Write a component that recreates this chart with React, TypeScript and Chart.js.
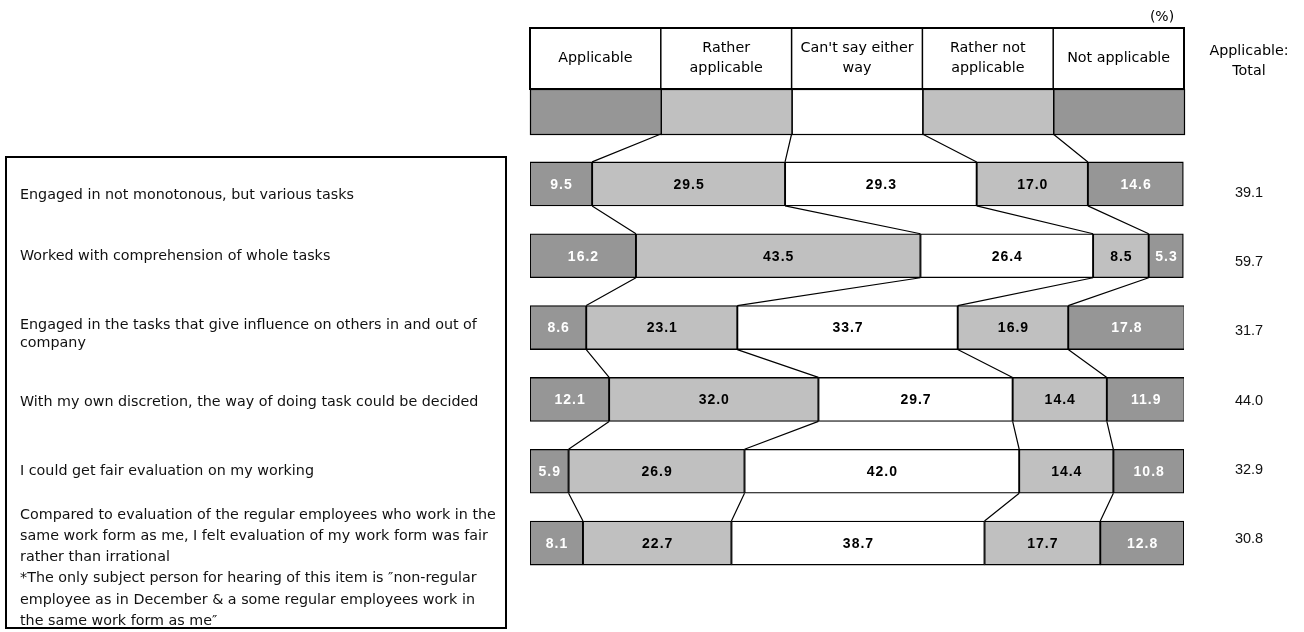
import React, { useEffect, useRef } from "react";
import { Chart, registerables } from "chart.js";

Chart.register(...registerables);

// ---------- data ----------
const categories = [
  "Engaged in not monotonous, but various tasks",
  "Worked with comprehension of whole tasks",
  "Engaged in the tasks that give influence on others in and out of company",
  "With my own discretion, the way of doing task could be decided",
  "I could get fair evaluation on my working",
  "Compared to evaluation of the regular employees who work in the same work form as me, I felt evaluation of my work form was fair rather than irrational",
];

const categoryLines = [
  ["Engaged in not monotonous, but various tasks"],
  ["Worked with comprehension of whole tasks"],
  ["Engaged in the tasks that give influence on others in and out of", "company"],
  ["With my own discretion, the way of doing task could be decided"],
  ["I could get fair evaluation on my working"],
  [
    "Compared to evaluation of the regular employees who work in the",
    "same work form as me, I felt evaluation of my work form was fair",
    "rather than irrational",
    "*The only subject person for hearing of this item is \u2033non-regular",
    "employee as in December & a some regular employees work in",
    "the same work form as me\u2033",
  ],
];

const seriesNames = [
  "Applicable",
  "Rather applicable",
  "Can't say either way",
  "Rather not applicable",
  "Not applicable",
];
const headerLines = [
  ["Applicable"],
  ["Rather", "applicable"],
  ["Can't say either", "way"],
  ["Rather not", "applicable"],
  ["Not applicable"],
];

const applicable = [9.5, 16.2, 8.6, 12.1, 5.9, 8.1];
const ratherApplicable = [29.5, 43.5, 23.1, 32.0, 26.9, 22.7];
const cantSay = [29.3, 26.4, 33.7, 29.7, 42.0, 38.7];
const ratherNot = [17.0, 8.5, 16.9, 14.4, 14.4, 17.7];
const notApplicable = [14.6, 5.3, 17.8, 11.9, 10.8, 12.8];
const applicableTotal = [39.1, 59.7, 31.7, 44.0, 32.9, 30.8];

const totalHeader = ["Applicable:", "Total"];
const unitLabel = "(%)";

// ---------- styles / layout ----------
const DARK = "#969696";
const LIGHT = "#c0c0c0";
const WHITE = "#ffffff";
const fills = [DARK, LIGHT, WHITE, LIGHT, DARK];
const labelColors = ["#ffffff", "#000000", "#000000", "#000000", "#ffffff"];

const W = 1304;
const H = 632;
const HEADER_TOP = 28;
const HEADER_MID = 89;
const HEADER_BOT = 134;
const LABEL_FIRST_Y = [195, 256, 325, 402, 471, 515];
const LABEL_LINE_H = [20, 20, 18, 20, 20, 21.2];
const TOTAL_Y0 = 193;
const TOTAL_STEP = 69.2;
const TOTAL_X = 1249;
const TEXT_FONT = '14.3px "DejaVu Sans"';

const overlayPlugin = {
  id: "overlay",
  afterDatasetsDraw(chart: any) {
    const ctx: CanvasRenderingContext2D = chart.ctx;
    const area = chart.chartArea;
    const nDs = chart.data.datasets.length;
    const n = categories.length;
    const metas = chart.data.datasets.map((_: any, i: number) => chart.getDatasetMeta(i));
    const el = (d: number, i: number) =>
      metas[d].data[i].getProps(["x", "y", "base", "height"], true);

    ctx.save();

    // ---- header table ----
    const hx0 = area.left;
    const colW = (area.right - area.left) / nDs;
    for (let k = 0; k < nDs; k++) {
      ctx.fillStyle = fills[k];
      ctx.fillRect(hx0 + k * colW, HEADER_MID, colW, HEADER_BOT - HEADER_MID);
    }
    ctx.strokeStyle = "#000";
    ctx.lineWidth = 1.2;
    for (let k = 0; k < nDs; k++) {
      ctx.strokeRect(hx0 + k * colW + 0.5, HEADER_MID + 0.5, colW, HEADER_BOT - HEADER_MID);
    }
    ctx.lineWidth = 1.5;
    for (let k = 1; k < nDs; k++) {
      ctx.beginPath();
      ctx.moveTo(hx0 + k * colW, HEADER_TOP);
      ctx.lineTo(hx0 + k * colW, HEADER_MID);
      ctx.stroke();
    }
    ctx.lineWidth = 2;
    ctx.strokeRect(hx0, HEADER_TOP, area.right - area.left, HEADER_MID - HEADER_TOP);

    ctx.fillStyle = "#000";
    ctx.font = TEXT_FONT;
    ctx.textAlign = "center";
    ctx.textBaseline = "middle";
    const hMidY = (HEADER_TOP + HEADER_MID) / 2;
    for (let k = 0; k < nDs; k++) {
      const lines = headerLines[k];
      const lh = 20;
      const y0 = hMidY - ((lines.length - 1) * lh) / 2;
      lines.forEach((t, j) => ctx.fillText(t, hx0 + (k + 0.5) * colW, y0 + j * lh));
    }

    // unit label
    ctx.font = '14px "DejaVu Sans"';
    ctx.fillText(unitLabel, area.right - 22, 17);

    // total header
    ctx.font = TEXT_FONT;
    ctx.fillText(totalHeader[0], TOTAL_X, 51);
    ctx.fillText(totalHeader[1], TOTAL_X, 71);

    // ---- connectors ----
    ctx.strokeStyle = "#000";
    ctx.lineWidth = 1.2;
    ctx.beginPath();
    for (let k = 1; k < nDs; k++) {
      const b = el(k - 1, 0);
      ctx.moveTo(hx0 + k * colW, HEADER_BOT);
      ctx.lineTo(b.x, b.y - b.height / 2);
    }
    for (let i = 0; i < n - 1; i++) {
      for (let k = 1; k < nDs; k++) {
        const a = el(k - 1, i);
        const b = el(k - 1, i + 1);
        ctx.moveTo(a.x, a.y + a.height / 2);
        ctx.lineTo(b.x, b.y - b.height / 2);
      }
    }
    ctx.stroke();

    // ---- value labels ----
    ctx.font = 'bold 14px "Liberation Sans"';
    (ctx as any).letterSpacing = "1px";
    ctx.textAlign = "center";
    ctx.textBaseline = "middle";
    for (let d = 0; d < nDs; d++) {
      const vals = chart.data.datasets[d].data as number[];
      for (let i = 0; i < n; i++) {
        const b = el(d, i);
        ctx.fillStyle = labelColors[d];
        ctx.fillText(vals[i].toFixed(1), (b.x + b.base) / 2 + 0.5, b.y + 1);
      }
    }
    (ctx as any).letterSpacing = "0px";

    // ---- totals ----
    ctx.font = '14.5px "Liberation Sans"';
    ctx.fillStyle = "#111";
    for (let i = 0; i < n; i++) {
      ctx.fillText(applicableTotal[i].toFixed(1), TOTAL_X, TOTAL_Y0 + i * TOTAL_STEP);
    }

    // ---- left label box ----
    ctx.lineWidth = 2;
    ctx.strokeStyle = "#000";
    ctx.strokeRect(6, 157, 500, 471);
    ctx.font = TEXT_FONT;
    ctx.textAlign = "left";
    ctx.fillStyle = "#111";
    for (let i = 0; i < n; i++) {
      categoryLines[i].forEach((t, j) => {
        ctx.fillText(t, 20, LABEL_FIRST_Y[i] + j * LABEL_LINE_H[i]);
      });
    }

    ctx.restore();
  },
};

export default function App() {
  const ref = useRef<HTMLCanvasElement | null>(null);

  useEffect(() => {
    document.body.style.margin = "0";
    document.body.style.overflow = "hidden";
    if (!ref.current) return;
    const seriesData = [applicable, ratherApplicable, cantSay, ratherNot, notApplicable];
    const chart = new Chart(ref.current, {
      type: "bar",
      data: {
        labels: categories,
        datasets: seriesData.map((d, k) => ({
          label: seriesNames[k],
          data: d,
          backgroundColor: fills[k],
          borderColor: "#000",
          borderWidth: 1.3,
          borderSkipped: false,
          barThickness: 44,
        })),
      },
      options: {
        indexAxis: "y",
        responsive: false,
        animation: false,
        events: [],
        layout: { padding: { left: 530, right: W - 1184, top: 148, bottom: H - 579 } },
        plugins: {
          legend: { display: false },
          tooltip: { enabled: false },
          title: { display: false },
        },
        scales: {
          x: { stacked: true, min: 0, max: 100, display: false },
          y: { stacked: true, display: false },
        },
      },
      plugins: [overlayPlugin],
    } as any);
    return () => chart.destroy();
  }, []);

  return (
    <div style={{ width: W, height: H, background: "#fff" }}>
      <canvas ref={ref} width={W} height={H} style={{ display: "block" }} />
    </div>
  );
}
